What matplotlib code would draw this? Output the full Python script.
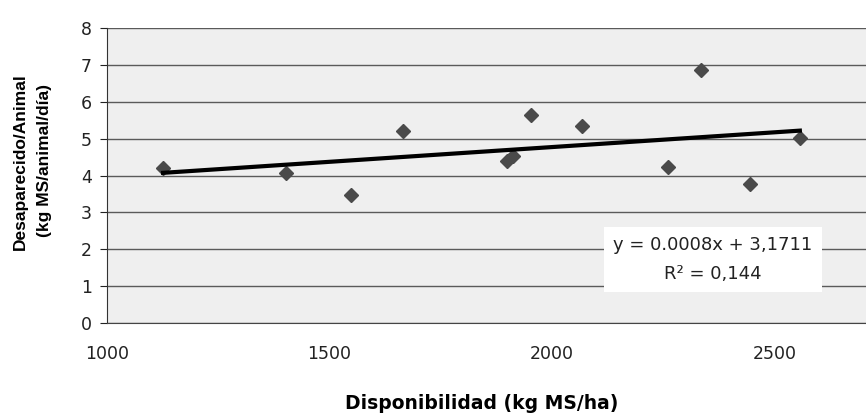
import matplotlib as mpl
from matplotlib import pyplot as plt
import numpy as np

mpl.rcParams["font.family"] = ["DejaVu Sans"]

# data
disponibilidad = [1126, 1402, 1548, 1665, 1899, 1912, 1953, 2067, 2261, 2335, 2445, 2557]
desaparecido = [4.20, 4.08, 3.46, 5.21, 4.39, 4.53, 5.64, 5.34, 4.24, 6.85, 3.76, 5.02]
slope, intercept = 0.0008, 3.1711
x_ticks = [1000, 1500, 2000, 2500]
y_ticks = [0, 1, 2, 3, 4, 5, 6, 7, 8]

W, H = 866, 415
fig = plt.figure(figsize=(W / 100, H / 100), dpi=100)
# plot area runs off the right edge like the scan (axis goes to 3000)
left, right, top, bottom = 107, 997, 28, 323
ax = fig.add_axes([left / W, (H - bottom) / H, (right - left) / W, (bottom - top) / H])
ax.set_facecolor("#efefef")

ax.set_xlim(1000, 3000)
ax.set_ylim(0, 8)
ax.set_xticks(x_ticks)
ax.set_yticks(y_ticks)
ax.grid(axis="y", color="#5a5a5a", lw=1.0)
ax.set_axisbelow(True)
for s in ["top", "right"]:
    ax.spines[s].set_visible(False)
ax.spines["left"].set_color("#333333")
ax.spines["bottom"].set_color("#444444")

ax.tick_params(axis="x", length=0, pad=16, labelsize=12.5, colors="#222222")
ax.tick_params(axis="y", length=5, direction="out", pad=6, labelsize=12.5, colors="#222222")

ax.plot(disponibilidad, desaparecido, linestyle="none", marker="D", markersize=7,
        color="#4a4a4a", zorder=3)

xs = np.array([min(disponibilidad), max(disponibilidad)])
ax.plot(xs, slope * xs + intercept, color="black", lw=3, zorder=4)

ax.text(0.681, 0.215, "y = 0.0008x + 3,1711\nR² = 0,144", transform=ax.transAxes,
        fontsize=13, ha="center", va="center", linespacing=1.75, color="#222222",
        bbox=dict(boxstyle="square,pad=0.5", fc="white", ec="none"), zorder=5)

fig.text(482 / W, 1 - 403 / H, "Disponibilidad (kg MS/ha)", ha="center", va="center",
         fontsize=13.5, fontweight="bold")
ylab = dict(ha="center", va="center", rotation=90, fontsize=12.5, fontweight="bold",
            family="Liberation Sans")
fig.text(20 / W, 1 - 162 / H, "Desaparecido/Animal", **ylab)
fig.text(45 / W, 1 - 160 / H, "(kg MS/animal/día)", **ylab)

fig.savefig("out.png", dpi=100)
